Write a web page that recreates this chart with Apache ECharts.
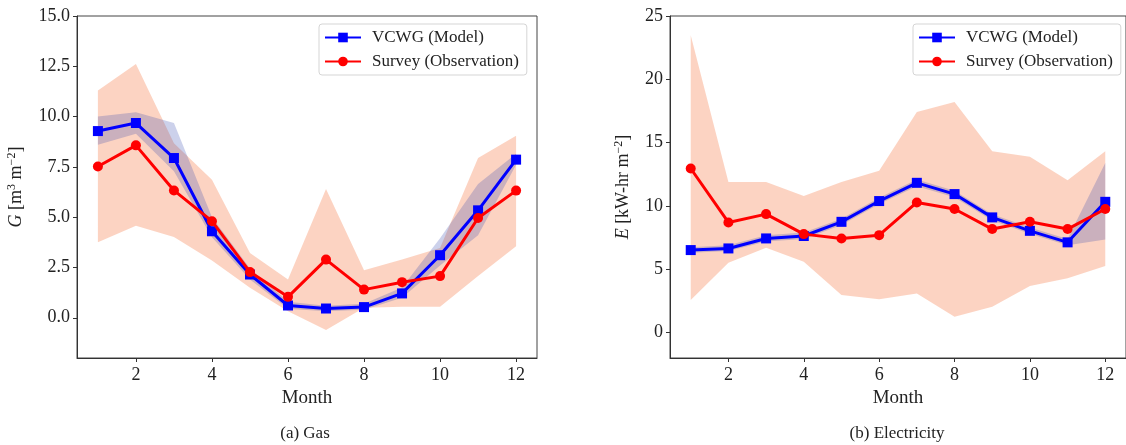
<!DOCTYPE html>
<html>
<head>
<meta charset="utf-8">
<script src="https://cdn.jsdelivr.net/npm/echarts@6/dist/echarts.min.js"></script>
<style>html,body{margin:0;padding:0;background:#fff;}#c{width:1126px;height:445px;}</style>
</head>
<body>
<div id="c"></div>
<script>
const months = [1,2,3,4,5,6,7,8,9,10,11,12];
const xTicks = [2,4,6,8,10,12];
const gasTicks = [0,2.5,5,7.5,10,12.5,15];
const elecTicks = [0,5,10,15,20,25];

const gasModel   = [9.28, 9.68, 7.94, 4.30, 2.15, 0.61, 0.46, 0.53, 1.21, 3.11, 5.34, 7.86];
const gasModelLo = [8.60, 9.15, 7.28, 4.00, 1.90, 0.45, 0.33, 0.40, 1.00, 2.60, 4.10, 7.60];
const gasModelHi = [10.00,10.22,9.68, 5.00, 2.45, 0.80, 0.60, 0.70, 1.50, 3.95, 6.65, 8.15];
const gasSurvey   = [7.52, 8.57, 6.33, 4.80, 2.27, 1.04, 2.89, 1.40, 1.77, 2.07, 4.96, 6.32];
const gasSurveyLo = [3.75, 4.58, 4.02, 2.85, 1.49, 0.33, -0.61, 0.50, 0.55, 0.55, 2.07, 3.55];
const gasSurveyHi = [11.30,12.62,8.68, 6.86, 3.22, 1.90, 6.40, 2.36, 2.90, 3.47, 7.94, 9.05];

const elecModel   = [6.52, 6.65, 7.44, 7.63, 8.75, 10.39, 11.83, 10.94, 9.10, 8.04, 7.13, 10.33];
const elecModelLo = [6.30, 6.45, 7.20, 7.40, 8.50, 10.15, 11.55, 10.70, 8.85, 7.80, 6.90, 7.35];
const elecModelHi = [6.75, 6.90, 7.70, 7.90, 9.00, 10.65, 12.10, 11.20, 9.35, 8.30, 7.40, 13.40];
const elecSurvey   = [12.96, 8.70, 9.36, 7.78, 7.44, 7.70, 10.28, 9.76, 8.18, 8.75, 8.18, 9.76];
const elecSurveyLo = [2.58, 5.52, 6.70, 5.60, 2.97, 2.63, 3.10, 1.26, 2.05, 3.68, 4.29, 5.26];
const elecSurveyHi = [23.48,11.90,11.90,10.78,11.90,12.78,17.43,18.22,14.33,13.88,12.04,14.33];

const FONT = 'Liberation Serif';
const TXT = '#222';
const SURVEY_FILL = 'rgba(245,120,70,0.33)';
const MODEL_FILL = 'rgba(50,70,175,0.25)';

function band(idx, lo, hi, color) {
  return {
    type: 'custom', xAxisIndex: idx, yAxisIndex: idx, silent: true, z: 1,
    data: months.map((m, i) => [m, lo[i], hi[i]]),
    encode: { x: 0, y: [1, 2] },
    renderItem: function (params, api) {
      if (params.dataIndex !== 0) return null;
      const pts = [];
      for (let i = 0; i < months.length; i++) pts.push(api.coord([months[i], hi[i]]));
      for (let i = months.length - 1; i >= 0; i--) pts.push(api.coord([months[i], lo[i]]));
      return { type: 'polygon', shape: { points: pts }, style: { fill: color } };
    }
  };
}
function line(idx, name, vals, color, symbol) {
  return {
    type: 'line', name: name, xAxisIndex: idx, yAxisIndex: idx, z: symbol === 'circle' ? 4 : 3,
    data: months.map((m, i) => [m, vals[i]]),
    symbol: symbol, symbolSize: 10,
    lineStyle: { color: color, width: 3 }, itemStyle: { color: color },
    showSymbol: true, animation: false
  };
}
function xAx(idx) {
  return {
    type: 'value', gridIndex: idx, min: 0.45, max: 12.55,
    name: 'Month', nameLocation: 'middle', nameGap: 30,
    nameTextStyle: { fontFamily: FONT, fontSize: 19, color: TXT },
    splitLine: { show: false },
    axisLine: { onZero: false, lineStyle: { color: '#333', width: 1 } },
    axisTick: { customValues: xTicks, length: 4, lineStyle: { color: '#333' } },
    axisLabel: { customValues: xTicks, fontFamily: FONT, fontSize: 18, color: TXT, margin: 8 }
  };
}
function yAx(idx, min, max, ticks, fmt, nameRich, gap) {
  return {
    type: 'value', gridIndex: idx, min: min, max: max,
    name: nameRich, nameLocation: 'middle', nameGap: gap, nameRotate: 90,
    nameTextStyle: {
      fontFamily: FONT, fontSize: 18, color: TXT,
      rich: {
        i: { fontFamily: FONT, fontSize: 18, fontStyle: 'italic', color: TXT },
        n: { fontFamily: FONT, fontSize: 18, color: TXT },
        s: { fontFamily: FONT, fontSize: 12, color: TXT, padding: [0, 0, 9, 0] }
      }
    },
    splitLine: { show: false },
    axisLine: { show: true, onZero: false, lineStyle: { color: '#333', width: 1 } },
    axisTick: { show: true, customValues: ticks, length: 4, lineStyle: { color: '#333' } },
    axisLabel: { customValues: ticks, formatter: fmt, fontFamily: FONT, fontSize: 18, color: TXT, margin: 7 }
  };
}
function legend(left) {
  return {
    left: left, top: 24, orient: 'vertical', itemWidth: 36, itemHeight: 12, itemGap: 7,
    data: ['VCWG (Model)', 'Survey (Observation)'],
    borderColor: '#d5d5d5', borderWidth: 1, borderRadius: 3, padding: [5, 8, 5, 5],
    backgroundColor: 'rgba(255,255,255,0.85)',
    textStyle: { fontFamily: FONT, fontSize: 17, color: TXT, padding: [0, 0, 0, 6] }
  };
}

const chart = echarts.init(document.getElementById('c'), null, { renderer: 'canvas' });
chart.setOption({
  animation: false,
  backgroundColor: '#fff',
  title: [
    { text: '(a) Gas', left: 300, top: 420, textAlign: 'center',
      textStyle: { fontFamily: FONT, fontSize: 17, fontWeight: 'normal', color: TXT } },
    { text: '(b) Electricity', left: 892, top: 420, textAlign: 'center',
      textStyle: { fontFamily: FONT, fontSize: 17, fontWeight: 'normal', color: TXT } }
  ],
  grid: [
    { left: 77, top: 16, right: 589, bottom: 87, show: true, borderColor: '#444', borderWidth: 1 },
    { left: 670, top: 16, right: -4, bottom: 87, show: true, borderColor: '#444', borderWidth: 1 }
  ],
  legend: [legend(319), legend(913)],
  xAxis: [xAx(0), xAx(1)],
  yAxis: [
    yAx(0, -2, 15, gasTicks, v => v.toFixed(1), '{i|G}{n| [m}{s|3}{n| m}{s|−2}{n|]}', 50),
    yAx(1, -2, 25, elecTicks, v => String(v), '{i|E}{n| [kW-hr m}{s|−2}{n|]}', 36)
  ],
  series: [
    band(0, gasSurveyLo, gasSurveyHi, SURVEY_FILL),
    band(0, gasModelLo, gasModelHi, MODEL_FILL),
    line(0, 'VCWG (Model)', gasModel, '#0000ff', 'rect'),
    line(0, 'Survey (Observation)', gasSurvey, '#ff0000', 'circle'),
    band(1, elecSurveyLo, elecSurveyHi, SURVEY_FILL),
    band(1, elecModelLo, elecModelHi, MODEL_FILL),
    line(1, 'VCWG (Model)', elecModel, '#0000ff', 'rect'),
    line(1, 'Survey (Observation)', elecSurvey, '#ff0000', 'circle')
  ]
});
</script>
</body>
</html>
